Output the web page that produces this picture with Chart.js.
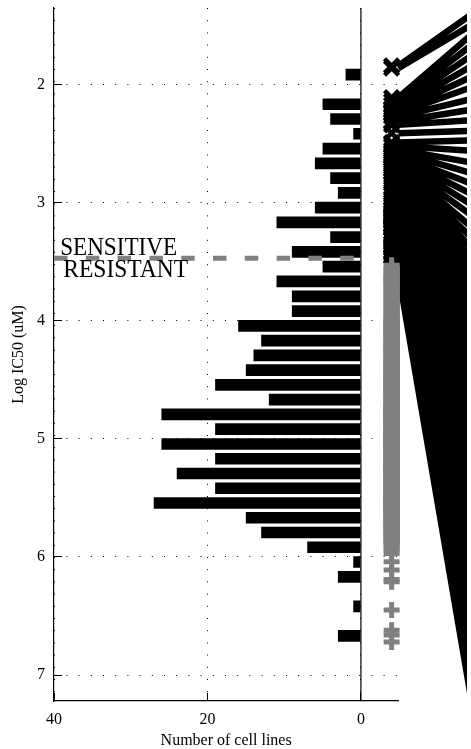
<!DOCTYPE html>
<html><head><meta charset="utf-8">
<script src="https://cdn.jsdelivr.net/npm/chart.js@4"></script>
<style>html,body{margin:0;padding:0;background:#fff;}canvas{display:block;}</style>
</head><body>
<canvas id="c" width="467" height="749"></canvas>
<script>
// ---- data ----
const binCenters = [1.915,2.040,2.165,2.290,2.415,2.541,2.666,2.791,2.916,3.041,3.166,3.291,3.416,3.541,3.666,3.792,3.917,4.042,4.167,4.292,4.417,4.542,4.667,4.792,4.917,5.043,5.168,5.293,5.418,5.543,5.668,5.793,5.918,6.043,6.168,6.294,6.419,6.544,6.669];
const cellLineCounts = [2,0,5,4,1,5,6,4,3,6,11,4,9,5,11,9,9,16,13,14,15,19,12,26,19,26,19,24,19,27,15,13,7,1,3,0,1,0,3];
const sensitiveIC50 = [1.84,1.86,2.11,2.14,2.17,2.20,2.22,2.24,2.27,2.31,2.34,2.41,2.49,2.52,2.55,2.57,2.60,2.61,2.63,2.66,2.68,2.70,2.72,2.74,2.77,2.81,2.84,2.88,2.92,2.96,2.99,3.01,3.03,3.06,3.08,3.10,3.11,3.12,3.13,3.14,3.15,3.16,3.18,3.19,3.20,3.21,3.22,3.25,3.28,3.31,3.34,3.36,3.37,3.38,3.39,3.41,3.42,3.43,3.45,3.46];
const resistantIC50 = [3.53,3.55,3.56,3.58,3.59,
3.61,3.62,3.63,3.64,3.65,3.66,3.67,3.68,3.69,3.70,3.72,
3.73,3.75,3.76,3.77,3.79,3.80,3.81,3.83,3.84,
3.86,3.87,3.89,3.90,3.91,3.93,3.94,3.95,3.97,
3.98,3.99,4.00,4.00,4.01,4.02,4.03,4.04,4.05,4.05,4.06,4.07,4.08,4.09,4.09,4.10,
4.11,4.12,4.13,4.14,4.15,4.16,4.17,4.18,4.19,4.20,4.21,4.22,4.22,
4.23,4.24,4.25,4.26,4.27,4.28,4.29,4.30,4.31,4.32,4.33,4.34,4.35,4.35,
4.36,4.37,4.38,4.39,4.40,4.40,4.41,4.42,4.43,4.44,4.45,4.45,4.46,4.47,4.47,
4.48,4.49,4.49,4.50,4.51,4.51,4.52,4.53,4.54,4.54,4.55,4.56,4.57,4.57,4.58,4.59,4.59,4.60,4.60,
4.61,4.62,4.63,4.64,4.65,4.66,4.67,4.68,4.69,4.70,4.71,4.72,
4.73,4.73,4.74,4.74,4.75,4.75,4.76,4.76,4.77,4.77,4.78,4.78,4.79,4.79,4.80,4.80,4.81,4.81,4.82,4.82,4.83,4.83,4.84,4.84,4.85,4.85,
4.86,4.87,4.87,4.88,4.89,4.89,4.90,4.91,4.91,4.92,4.93,4.93,4.94,4.95,4.95,4.96,4.96,4.97,4.97,
4.98,4.98,4.99,4.99,5.00,5.00,5.01,5.01,5.02,5.02,5.03,5.03,5.04,5.04,5.05,5.05,5.06,5.06,5.07,5.07,5.08,5.08,5.09,5.09,5.10,5.10,
5.11,5.12,5.12,5.13,5.14,5.14,5.15,5.16,5.16,5.17,5.18,5.18,5.19,5.20,5.20,5.21,5.21,5.22,5.22,
5.23,5.23,5.24,5.24,5.25,5.25,5.26,5.26,5.27,5.27,5.28,5.28,5.29,5.29,5.30,5.30,5.31,5.31,5.32,5.32,5.33,5.33,5.34,5.35,
5.36,5.37,5.37,5.38,5.39,5.39,5.40,5.41,5.41,5.42,5.43,5.43,5.44,5.45,5.45,5.46,5.46,5.47,5.47,
5.48,5.48,5.49,5.49,5.50,5.50,5.51,5.51,5.52,5.52,5.53,5.53,5.54,5.54,5.55,5.55,5.56,5.56,5.57,5.57,5.58,5.58,5.59,5.59,5.60,5.60,5.60,
5.61,5.62,5.63,5.64,5.64,5.65,5.66,5.67,5.67,5.68,5.69,5.70,5.70,5.71,5.72,
5.73,5.74,5.75,5.76,5.77,5.78,5.79,5.80,5.81,5.82,5.83,5.84,5.85,
5.86,5.87,5.88,5.90,5.92,5.94,5.97,
6.04,
6.11,6.19,6.21,
6.45,
6.62,6.66,6.72];
// lines linking the lowest IC50 cell lines to the panel on the right
const fanStart = [1.84,1.86,2.11,2.14,2.17,2.20,2.22,2.24,2.27,2.31,2.34,2.41,2.49,2.52,2.55,2.57,2.60,2.61,2.63,2.66,2.68,2.70,2.72,2.74,2.77,2.81,2.84,2.88,2.92,2.96,2.99,3.01,3.03,3.06,3.08,3.10,3.11,3.12,3.13,3.14,3.15,3.16,3.18,3.19,3.20,3.21,3.22,3.25,3.28,3.31,3.34,3.36,3.37,3.38,3.39,3.41,3.42,3.43,3.45,3.46,3.53,3.55,3.56,3.58,3.59];
const fanEnd = [1.40,1.49,1.57,1.66,1.75,1.84,1.93,2.02,2.12,2.21,2.30,2.39,2.47,2.56,2.66,2.75,2.84,2.93,3.02,3.11,3.21,3.30,3.39,3.48,3.57,3.66,3.75,3.84,3.94,4.03,4.12,4.21,4.30,4.39,4.48,4.58,4.67,4.76,4.85,4.95,5.04,5.13,5.22,5.32,5.41,5.50,5.59,5.68,5.78,5.87,5.96,6.05,6.14,6.23,6.33,6.42,6.51,6.60,6.70,6.79,6.88,6.97,7.06,7.15,7.25];
const xTicks = [40, 20, 0];
const yTicks = [2, 3, 4, 5, 6, 7];
const threshold = 3.469;
const markerX = -4;
const fanX = [-4.87, -14.5];
const xRange = [-4.87, 40];
const yRange = [1.35, 7.22];

Chart.defaults.font.family = '"Liberation Serif", "Times New Roman", Times, serif';
Chart.defaults.color = '#000';

const GRAY = '#808080';
const bars = binCenters.map((c, i) => ({x: cellLineCounts[i], y: c}));
const sensPts = sensitiveIC50.map(v => ({x: markerX, y: v}));
const resPts = resistantIC50.map(v => ({x: markerX, y: v}));
const fanPts = [];
fanStart.forEach((v, i) => {
  fanPts.push({x: fanX[0], y: v}, {x: fanX[1], y: fanEnd[i]}, {x: fanX[1], y: null});
});

const textPlugin = {
  id: 'srText',
  afterDraw(chart) {
    const {ctx, scales: {x, y}} = chart;
    const ly = y.getPixelForValue(threshold);
    ctx.save();
    ctx.fillStyle = '#000';
    ctx.font = '25px "Liberation Serif", "Times New Roman", serif';
    ctx.textBaseline = 'alphabetic';
    ctx.textAlign = 'left';
    ctx.fillText('SENSITIVE', x.getPixelForValue(39.2), ly - 3, 117);
    ctx.fillText('RESISTANT', x.getPixelForValue(38.8), ly + 19, 125);
    ctx.restore();
  }
};

new Chart(document.getElementById('c'), {
  type: 'bar',
  data: {
    datasets: [
      { type: 'scatter', data: resPts, pointStyle: 'cross', pointRadius: 8, pointBorderWidth: 5,
        pointBorderColor: GRAY, pointBackgroundColor: GRAY, showLine: false, clip: false, order: 0 },
      { type: 'scatter', data: sensPts, pointStyle: 'crossRot', pointRadius: 10, pointBorderWidth: 4.5,
        pointBorderColor: '#000', pointBackgroundColor: '#000', showLine: false, clip: false, order: 1 },
      { type: 'line', data: fanPts, borderColor: '#000', borderWidth: 6.5, borderCapStyle: 'butt',
        pointRadius: 0, tension: 0, fill: false, spanGaps: false, clip: false, order: 2 },
      { type: 'line', data: [{x: 0, y: yRange[0]}, {x: 0, y: yRange[1]}], borderColor: '#000', borderWidth: 1.2,
        pointRadius: 0, fill: false, order: 3 },
      { type: 'line', data: [{x: xRange[1], y: threshold}, {x: 0, y: threshold}], borderColor: GRAY, borderWidth: 5,
        borderDash: [13.5, 18.3], pointRadius: 0, fill: false, clip: false, order: 4 },
      { type: 'bar', indexAxis: 'y', data: bars, backgroundColor: '#000', borderWidth: 0,
        barPercentage: 0.79, categoryPercentage: 1, order: 5 }
    ]
  },
  options: {
    responsive: false,
    animation: false,
    events: [],
    layout: { autoPadding: false, padding: { top: 8, right: 68.7, left: 0, bottom: 0 } },
    plugins: { legend: { display: false }, tooltip: { enabled: false }, title: { display: false } },
    scales: {
      x: {
        type: 'linear', reverse: true, min: xRange[0], max: xRange[1], position: 'bottom', offset: false,
        afterBuildTicks: s => { s.ticks = xTicks.map(v => ({value: v})); },
        afterFit: s => { s.height = 48; s.paddingLeft = 0; s.paddingRight = 0; },
        grid: { display: true, offset: false, drawOnChartArea: true, color: '#000', lineWidth: 1, drawTicks: true, tickLength: -8, tickColor: '#000', tickWidth: 1 },
        border: { display: true, color: '#000', width: 1.2, dash: [1, 11.2] },
        ticks: { padding: 17, maxRotation: 0, font: { size: 16 }, color: '#000' },
        title: { display: true, text: 'Number of cell lines', font: { size: 16, lineHeight: 1.0 }, color: '#000', padding: { top: 0, bottom: 0 } }
      },
      y: {
        type: 'linear', reverse: true, min: yRange[0], max: yRange[1], position: 'left', offset: false,
        afterBuildTicks: s => { s.ticks = yTicks.map(v => ({value: v})); },
        afterFit: s => { s.width = 54; s.paddingTop = 0; s.paddingBottom = 0; },
        grid: { display: true, offset: false, drawOnChartArea: true, color: '#000', lineWidth: 1, drawTicks: true, tickLength: -8, tickColor: '#000', tickWidth: 1 },
        border: { display: true, color: '#000', width: 1.2, dash: [1, 11.2] },
        ticks: { padding: 17, font: { size: 16 }, color: '#000' },
        title: { display: true, text: 'Log IC50 (uM)', font: { size: 16, lineHeight: 1.2 }, color: '#000', padding: { top: 9, bottom: 0 } }
      }
    }
  },
  plugins: [textPlugin]
});
</script>
</body></html>
